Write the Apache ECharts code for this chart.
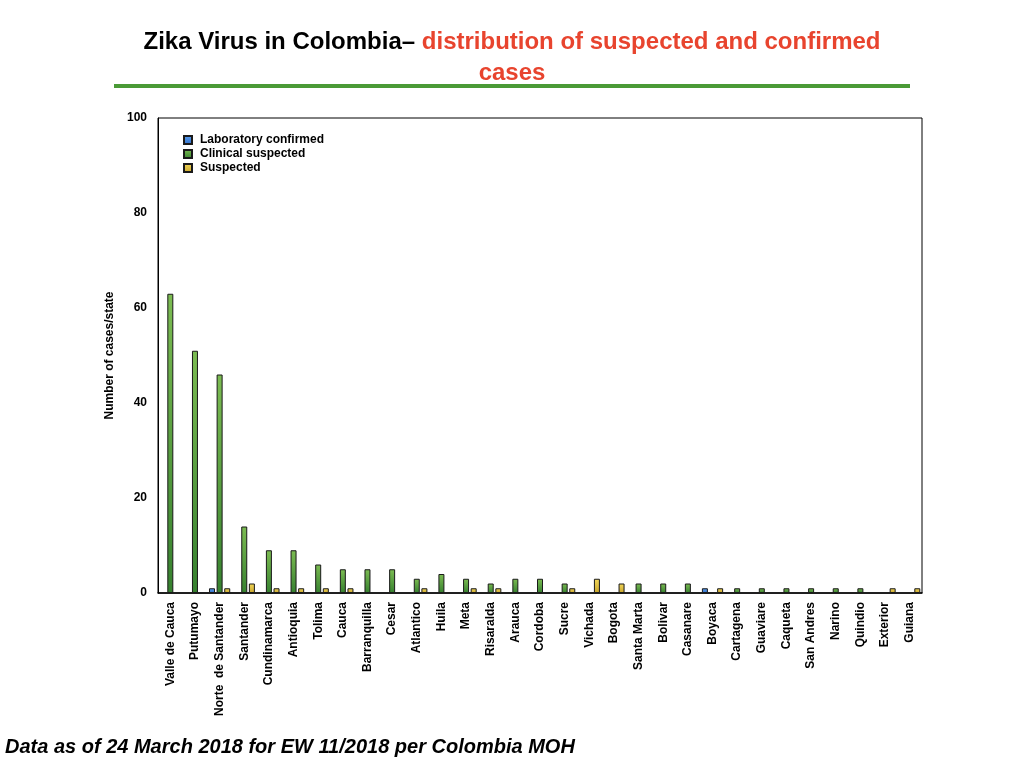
<!doctype html>
<html>
<head>
    <meta charset="utf-8">
    <title>Zika Virus in Colombia</title>
    <style>
        html, body, #container {
            margin: 0;
            height: 100%;
            width: 100%;
            background: #fff;
        }
    </style>
</head>
<body>
<div id="container"></div>
<script type="text/javascript" src="https://cdn.jsdelivr.net/npm/echarts@6/dist/echarts.min.js"></script>
<script type="text/javascript">
    var states = ['Valle de Cauca', 'Putumayo', 'Norte  de Santander', 'Santander', 'Cundinamarca', 'Antioquia',
        'Tolima', 'Cauca', 'Barranquilla', 'Cesar', 'Atlantico', 'Huila', 'Meta', 'Risaralda', 'Arauca',
        'Cordoba', 'Sucre', 'Vichada', 'Bogota', 'Santa Marta', 'Bolivar', 'Casanare', 'Boyaca', 'Cartagena',
        'Guaviare', 'Caqueta', 'San Andres', 'Narino', 'Quindio', 'Exterior', 'Guiana'];
    var labConfirmed = [null, null, 1, null, null, null, null, null, null, null, null, null, null, null, null,
        null, null, null, null, null, null, null, 1, null, null, null, null, null, null, null, null];
    var clinicalSuspected = [63, 51, 46, 14, 9, 9, 6, 5, 5, 5, 3, 4, 3, 2, 3,
        3, 2, null, null, 2, 2, 2, null, 1, 1, 1, 1, 1, 1, null, null];
    var suspected = [null, null, 1, 2, 1, 1, 1, 1, null, null, 1, null, 1, 1, null,
        null, 1, 3, 2, null, null, null, 1, null, null, null, null, null, null, 1, 1];

    function grad(top, bottom) {
        return new echarts.graphic.LinearGradient(0, 0, 0, 1, [
            {offset: 0, color: top},
            {offset: 1, color: bottom}
        ]);
    }

    var myChart = echarts.init(document.getElementById('container'));
    var font = '"Liberation Sans", Arial, Helvetica, sans-serif';

    var option = {
        textStyle: {fontFamily: font},
        animation: false,
        grid: {
            left: 158, right: 102, top: 118, bottom: 175,
            show: true, borderColor: '#000', borderWidth: 1
        },
        legend: {
            orient: 'vertical',
            left: 178, top: 129,
            itemWidth: 8, itemHeight: 8, itemGap: 2,
            icon: 'rect',
            textStyle: {fontFamily: font, fontWeight: 'bold', fontSize: 12, lineHeight: 12, color: '#000', padding: [0, 0, 0, 3]},
            data: ['Laboratory confirmed', 'Clinical suspected', 'Suspected']
        },
        xAxis: {
            type: 'category',
            data: states,
            axisLine: {lineStyle: {color: '#000', width: 1.5}},
            axisTick: {show: false},
            axisLabel: {
                interval: 0, rotate: 90, margin: 9,
                fontFamily: font, fontWeight: 'bold', fontSize: 12, color: '#000'
            }
        },
        yAxis: {
            type: 'value',
            min: 0, max: 100, interval: 20,
            name: 'Number of cases/state',
            nameLocation: 'middle', nameGap: 31,
            nameTextStyle: {fontFamily: font, fontWeight: 'bold', fontSize: 12, color: '#000'},
            axisLine: {show: true, lineStyle: {color: '#000', width: 1}},
            axisTick: {show: false},
            splitLine: {show: false},
            axisLabel: {
                margin: 11, fontFamily: font, fontWeight: 'bold', fontSize: 12, color: '#000'
            }
        },
        series: [
            {
                name: 'Laboratory confirmed', type: 'bar', data: labConfirmed,
                barWidth: 6, barGap: '27%',
                itemStyle: {color: grad('#5d9ff0', '#2f6fc8'), borderColor: '#1a1a1a', borderWidth: 1}
            },
            {
                name: 'Clinical suspected', type: 'bar', data: clinicalSuspected,
                barWidth: 6, barGap: '27%',
                itemStyle: {color: grad('#7cbc52', '#36812f'), borderColor: '#1a1a1a', borderWidth: 1}
            },
            {
                name: 'Suspected', type: 'bar', data: suspected,
                barWidth: 6, barGap: '27%',
                itemStyle: {color: grad('#f2d75a', '#c9a62c'), borderColor: '#1a1a1a', borderWidth: 1}
            }
        ],
        graphic: [
            {
                type: 'text', left: 'center', top: 30,
                style: {
                    text: '{a|Zika Virus in Colombia\u2013 }{b|distribution of suspected and confirmed}',
                    rich: {
                        a: {fontFamily: font, fontWeight: 'bold', fontSize: 24, fill: '#000'},
                        b: {fontFamily: font, fontWeight: 'bold', fontSize: 24, fill: '#e8442e'}
                    }
                }
            },
            {
                type: 'text', left: 'center', top: 61,
                style: {text: 'cases', fontFamily: font, fontWeight: 'bold', fontSize: 24, fill: '#e8442e'}
            },
            {
                type: 'rect', shape: {x: 114, y: 84, width: 796, height: 4},
                style: {fill: '#4a9a36'}
            },
            {
                type: 'text', left: 5, top: 737,
                style: {
                    text: 'Data as of 24 March 2018 for EW 11/2018 per Colombia MOH',
                    fontFamily: font, fontWeight: 'bold', fontStyle: 'italic', fontSize: 20, fill: '#000'
                }
            }
        ]
    };
    myChart.setOption(option);
</script>
</body>
</html>
